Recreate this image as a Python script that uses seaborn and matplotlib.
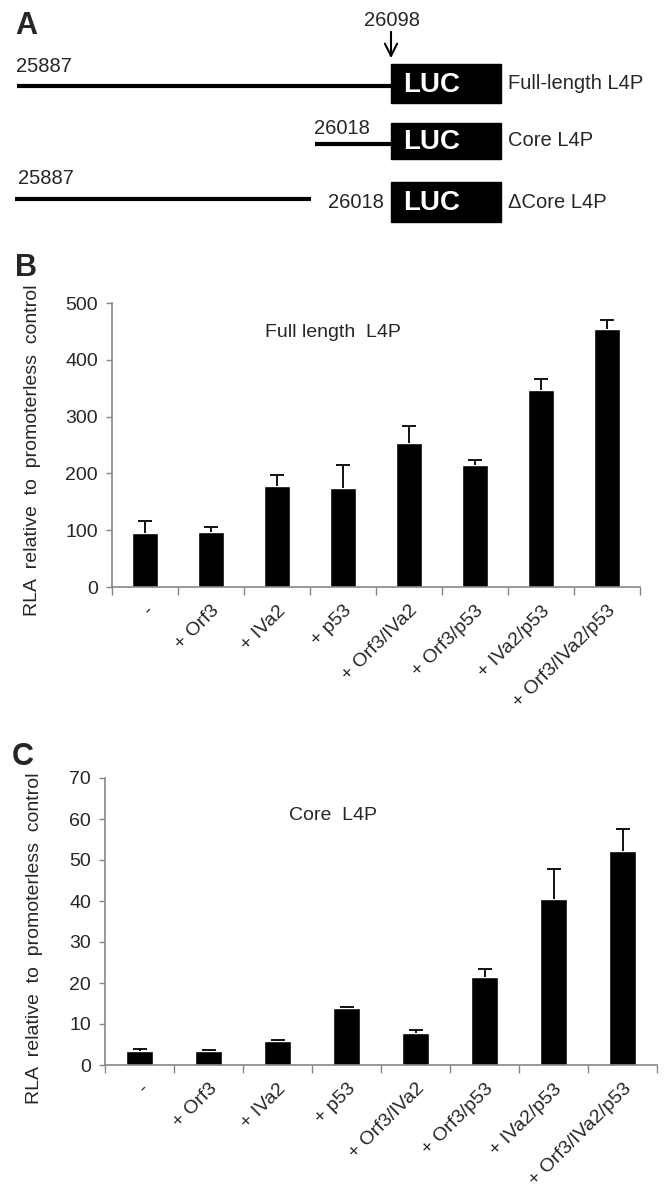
import numpy as np
import matplotlib
matplotlib.use("Agg")
import matplotlib.pyplot as plt
import seaborn as sns
from matplotlib.patches import Rectangle

# ---- data ----
conditions = ["-", "+ Orf3", "+ IVa2", "+ p53", "+ Orf3/IVa2",
              "+ Orf3/p53", "+ IVa2/p53", "+ Orf3/IVa2/p53"]

full_mean = [95, 97, 178, 175, 254, 214, 347, 455]
full_err = [21, 8, 20, 40, 30, 9, 20, 15]

core_mean = [3.5, 3.4, 5.8, 13.8, 7.7, 21.4, 40.4, 52.1]
core_err = [0.3, 0.3, 0.3, 0.4, 0.8, 1.9, 7.5, 5.5]

construct_names = ["Full-length L4P", "Core L4P", "\u0394Core L4P"]
construct_start = ["25887", "26018", "25887"]
junction_label = "26018"
tss_label = "26098"

sns.set_theme(style="white")
plt.rcParams["font.family"] = ["Liberation Sans", "DejaVu Sans"]

GRAY = "#868686"
W, H = 665, 1193
fig = plt.figure(figsize=(W / 100, H / 100), dpi=100)


def fig_rect(left, top, right, bottom):
    return [left / W, 1 - bottom / H, (right - left) / W, (bottom - top) / H]


# ---- panel A: construct diagram (pixel coords) ----
axA = fig.add_axes([0, 1 - 240 / H, 1, 240 / H])
axA.set_xlim(0, W)
axA.set_ylim(240, 0)
axA.axis("off")

rows = [
    dict(line=(17, 391), y=86, box=(64, 103), start_xy=(16, 67)),
    dict(line=(315, 391), y=144, box=(123, 159), start_xy=(314, 128)),
    dict(line=(15, 311), y=199, box=(182, 222), start_xy=(18, 178)),
]
for i, r in enumerate(rows):
    axA.plot(r["line"], [r["y"], r["y"]], color="black", lw=3, solid_capstyle="butt")
    top, bot = r["box"]
    axA.add_patch(Rectangle((391, top), 110, bot - top, color="black"))
    axA.text(432, (top + bot) / 2 + 1, "LUC", color="white", fontsize=20,
             fontweight="bold", ha="center", va="center")
    axA.text(508, (top + bot) / 2, construct_names[i], fontsize=14.5,
             ha="left", va="center")
    axA.text(r["start_xy"][0], r["start_xy"][1], construct_start[i], fontsize=14.5,
             ha="left", va="center")

axA.text(384, 203, junction_label, fontsize=14.5, ha="right", va="center")
axA.text(392, 20, tss_label, fontsize=14.5, ha="center", va="center")
axA.annotate("", xy=(391, 61), xytext=(391, 29),
             arrowprops=dict(arrowstyle="->", color="black", lw=1.5,
                             mutation_scale=22))
fig.text(15 / W, 1 - 26 / H, "A", fontsize=22, fontweight="bold", va="center")


# ---- bar panels ----
def bar_panel(rect, means, errs, ymax, step, title, title_xy, label_xy, tick_fs):
    ax = fig.add_axes(rect)
    pos = np.arange(len(conditions))
    sns.barplot(x=conditions, y=means, color="black", width=0.39,
                errorbar=None, saturation=1, ax=ax)
    eb = ax.errorbar(pos, means, yerr=[np.zeros(len(errs)), errs], fmt="none",
                     ecolor="black", elinewidth=1.3, capsize=5, capthick=1.3)
    # only the upper cap is wanted (Excel "plus" error bars)
    for cap in eb[1]:
        if np.allclose(cap.get_ydata(), means):
            cap.set_visible(False)
    ax.set_xlim(-0.5, len(conditions) - 0.5)
    ax.set_ylim(0, ymax)
    ax.set_yticks(np.arange(0, ymax + step, step))
    ax.set_xticks(pos)
    ax.set_xticklabels(conditions, rotation=45, ha="right",
                       rotation_mode="anchor", fontsize=tick_fs)
    ax.set_xticks(np.arange(-0.5, len(conditions)), minor=True)
    ax.tick_params(axis="x", which="major", length=0, pad=11)
    ax.tick_params(axis="x", which="minor", length=6, width=1, color=GRAY,
                   direction="out", bottom=True)
    ax.tick_params(axis="y", length=4, width=1, color=GRAY, direction="out",
                   left=True, labelsize=tick_fs, pad=6)
    for s in ["top", "right"]:
        ax.spines[s].set_visible(False)
    for s in ["left", "bottom"]:
        ax.spines[s].set_color(GRAY)
        ax.spines[s].set_linewidth(1.2)
    ax.set_ylabel("RLA  relative  to  promoterless  control", fontsize=14)
    ax.yaxis.set_label_coords(label_xy[0], label_xy[1])
    ax.text(title_xy[0], title_xy[1], title, transform=ax.transAxes,
            fontsize=14, ha="center", va="center")
    ax.set_xlabel("")
    return ax


axB = bar_panel(fig_rect(112, 303, 640, 587), full_mean, full_err, 500, 100,
                "Full length  L4P", (0.419, 0.895), (-0.134, 0.48), 14)
fig.text(15 / W, 1 - 268 / H, "B", fontsize=22, fontweight="bold", va="center")

axC = bar_panel(fig_rect(105, 778, 657, 1065), core_mean, core_err, 70, 10,
                "Core  L4P", (0.413, 0.868), (-0.112, 0.44), 14)
fig.text(12 / W, 1 - 757 / H, "C", fontsize=22, fontweight="bold", va="center")

fig.savefig("out.png", dpi=100, facecolor="white")
